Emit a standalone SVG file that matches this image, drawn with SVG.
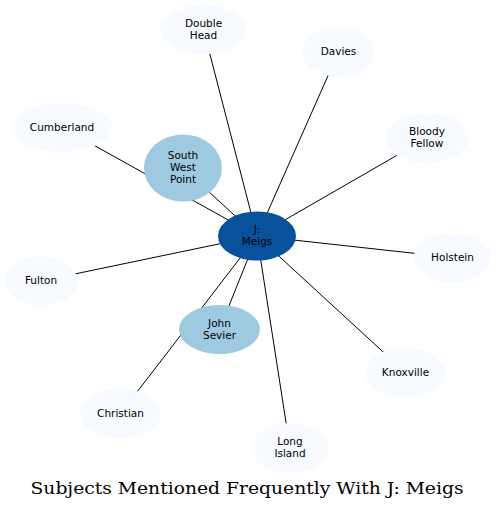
<svg xmlns="http://www.w3.org/2000/svg" width="496" height="509" viewBox="0 0 496 509">
<style>
.e{stroke:#000;stroke-width:1;fill:none}
.l{fill:#f7fbff}
.m{fill:#9ecae1}
.d{fill:#08519c}
.t{font-family:"DejaVu Sans",sans-serif;font-size:10.5px;fill:#000;text-anchor:middle}
.title{font-family:"DejaVu Serif",serif;font-size:17.5px;fill:#000;text-anchor:middle}
</style>
<rect width="496" height="509" fill="#fff"/>
<g id="connectors">
<line class="e" x1="257" y1="236" x2="203.5" y2="29.5"/>
<line class="e" x1="257" y1="236" x2="338.5" y2="52"/>
<line class="e" x1="257" y1="236" x2="427" y2="138"/>
<line class="e" x1="257" y1="236" x2="452.5" y2="257.5"/>
<line class="e" x1="257" y1="236" x2="405.5" y2="372.5"/>
<line class="e" x1="257" y1="236" x2="290" y2="448"/>
<line class="e" x1="257" y1="236" x2="120.5" y2="413.5"/>
<line class="e" x1="257" y1="236" x2="219.5" y2="329.5"/>
<line class="e" x1="257" y1="236" x2="41" y2="281"/>
<line class="e" x1="257" y1="236" x2="62" y2="127.5"/>
<line class="e" x1="257" y1="236" x2="183" y2="168"/>
</g>
<g id="double_head"><ellipse class="l" cx="203.5" cy="29.5" rx="43.5" ry="24.5"/><text class="t" x="203.5" y="26.5">Double</text><text class="t" x="203.5" y="38.5">Head</text></g>
<g id="davies"><ellipse class="l" cx="338.5" cy="52" rx="36.5" ry="24.5"/><text class="t" x="338.5" y="55">Davies</text></g>
<g id="cumberland"><ellipse class="l" cx="62" cy="127.5" rx="50" ry="24.5"/><text class="t" x="62" y="130.5">Cumberland</text></g>
<g id="south_west_point"><ellipse class="m" cx="183" cy="168" rx="39" ry="33.5"/><text class="t" x="183" y="159">South</text><text class="t" x="183" y="171">West</text><text class="t" x="183" y="183">Point</text></g>
<g id="bloody_fellow"><ellipse class="l" cx="427" cy="138" rx="42" ry="25"/><text class="t" x="427" y="135">Bloody</text><text class="t" x="427" y="147">Fellow</text></g>
<g id="j_meigs"><ellipse class="d" cx="257" cy="236" rx="39" ry="24.5"/><text class="t" x="257" y="233">J:</text><text class="t" x="257" y="245">Meigs</text></g>
<g id="holstein"><ellipse class="l" cx="452.5" cy="257.5" rx="38.5" ry="24.5"/><text class="t" x="452.5" y="260.5">Holstein</text></g>
<g id="fulton"><ellipse class="l" cx="41" cy="281" rx="36.5" ry="24.5"/><text class="t" x="41" y="284">Fulton</text></g>
<g id="john_sevier"><ellipse class="m" cx="219.5" cy="329.5" rx="40.5" ry="24.5"/><text class="t" x="219.5" y="326.5">John</text><text class="t" x="219.5" y="338.5">Sevier</text></g>
<g id="knoxville"><ellipse class="l" cx="405.5" cy="372.5" rx="40.5" ry="24.5"/><text class="t" x="405.5" y="375.5">Knoxville</text></g>
<g id="christian"><ellipse class="l" cx="120.5" cy="413.5" rx="40.5" ry="24.5"/><text class="t" x="120.5" y="416.5">Christian</text></g>
<g id="long_island"><ellipse class="l" cx="290" cy="448" rx="39" ry="25"/><text class="t" x="290" y="445">Long</text><text class="t" x="290" y="457">Island</text></g>
<text class="title" x="247" y="494" textLength="433" lengthAdjust="spacingAndGlyphs">Subjects Mentioned Frequently With J: Meigs</text>
</svg>
